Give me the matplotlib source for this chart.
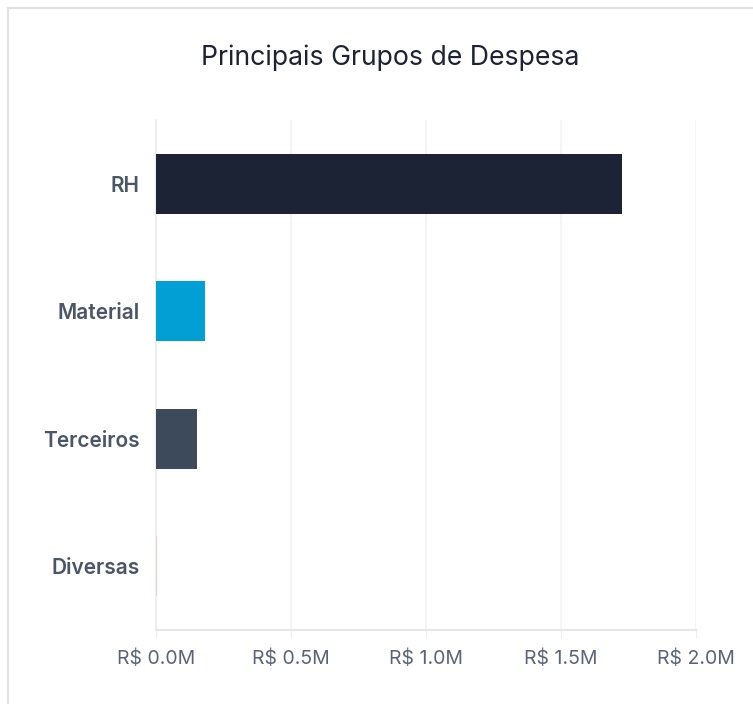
import matplotlib.pyplot as plt
from matplotlib.patches import Rectangle
from matplotlib.ticker import FuncFormatter

plt.rcParams['font.family'] = ['Inter', 'DejaVu Sans']

# data (R$ millions)
groups = ['RH', 'Material', 'Terceiros', 'Diversas']
values = [1.726, 0.181, 0.152, 0.002]
colors = ['#1b2335', '#029fd4', '#3c4a5c', '#fcc9cc']
x_ticks = [0.0, 0.5, 1.0, 1.5, 2.0]

fig = plt.figure(figsize=(7.53, 7.04), dpi=100)
# card frame, behind the axes
fig.patches.append(Rectangle((8 / 753, -0.1), 1.2, (704 - 8) / 704 + 0.1,
                             transform=fig.transFigure, facecolor='white',
                             edgecolor='#e2e2e2', lw=1.5, zorder=-5))

ax = fig.add_axes([156 / 753, 1 - 630 / 704, (696 - 156) / 753, (630 - 120) / 704])
ax.set_facecolor('none')

ypos = list(range(len(groups)))
ax.barh(ypos, values, height=0.47, color=colors, zorder=3)
ax.set_ylim(len(groups) - 0.5, -0.5)
ax.set_xlim(0, 2.0)

ax.set_yticks(ypos)
ax.set_yticklabels(groups, fontsize=15, fontweight='semibold', color='#4a5568')
ax.set_xticks(x_ticks)
ax.xaxis.set_major_formatter(FuncFormatter(lambda v, p: 'R$ %.1fM' % v))
ax.tick_params(axis='x', labelsize=14, labelcolor='#5a6478', length=6,
               color='#eeeeee', pad=8)
ax.tick_params(axis='y', length=0, pad=12)

ax.grid(axis='x', color='#f4f4f4', lw=1.2, zorder=0)
for s in ['top', 'right']:
    ax.spines[s].set_visible(False)
ax.spines['left'].set_color('#eeeeee')
ax.spines['bottom'].set_color('#e6e6e6')
ax.spines['left'].set_linewidth(1.5)
ax.spines['bottom'].set_linewidth(1.5)

fig.text(390 / 753, 1 - 58 / 704, 'Principais Grupos de Despesa', ha='center',
         va='center', fontsize=19.2, color='#1b2335')

fig.savefig('out.png', dpi=100)
